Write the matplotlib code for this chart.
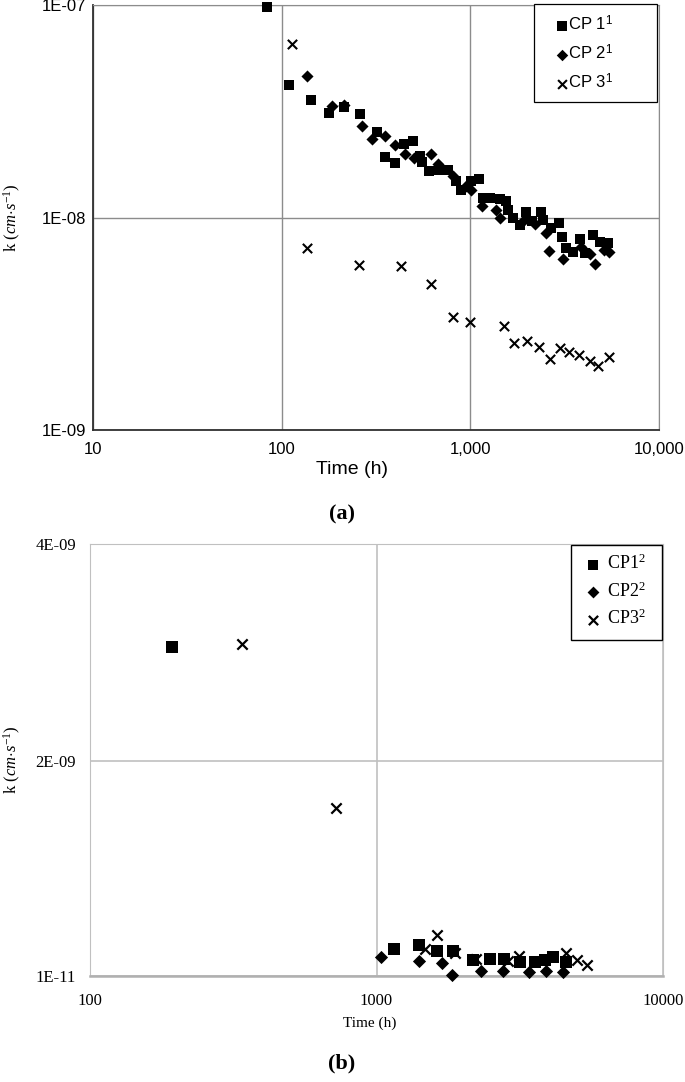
import numpy as np
import matplotlib
matplotlib.use('Agg')
import matplotlib.pyplot as plt
from matplotlib.patches import Rectangle
from matplotlib.ticker import FixedLocator, FixedFormatter, NullLocator

plt.rcParams['mathtext.fontset'] = 'custom'
plt.rcParams['mathtext.rm'] = 'Liberation Serif'
plt.rcParams['mathtext.it'] = 'Liberation Serif:italic'
plt.rcParams['mathtext.sf'] = 'Liberation Sans'

# ── Data: panel (a) ───────────────────────────────────────────────────────────
cp1_a_time = [84, 110, 143, 179, 213, 261, 322, 352, 399, 444, 497, 544, 557, 604, 683,
              762, 837, 887, 1014, 1112, 1167, 1267, 1432, 1539, 1585, 1684, 1827, 1965,
              2132, 2380, 2428, 2691, 2953, 3077, 3201, 3499, 3796, 4034, 4467, 4846, 5360]
cp1_a_k = [9.75e-8, 4.21e-8, 3.58e-8, 3.09e-8, 3.30e-8, 3.07e-8, 2.52e-8, 1.93e-8, 1.80e-8,
           2.22e-8, 2.28e-8, 1.95e-8, 1.83e-8, 1.66e-8, 1.68e-8, 1.68e-8, 1.49e-8, 1.35e-8,
           1.48e-8, 1.51e-8, 1.23e-8, 1.23e-8, 1.22e-8, 1.19e-8, 1.08e-8, 9.91e-9, 9.23e-9,
           1.06e-8, 9.66e-9, 1.06e-8, 9.72e-9, 8.89e-9, 9.39e-9, 8.07e-9, 7.21e-9, 6.90e-9,
           7.89e-9, 6.83e-9, 8.28e-9, 7.69e-9, 7.57e-9]

cp2_a_time = [137, 184, 213, 265, 303, 355, 401, 453, 501, 622, 675, 809, 953, 1014, 1158,
              1365, 1443, 1919, 2193, 2506, 2622, 3097, 3874, 4323, 4600, 5093, 5433]
cp2_a_k = [4.61e-8, 3.35e-8, 3.38e-8, 2.70e-8, 2.33e-8, 2.42e-8, 2.19e-8, 2.00e-8, 1.91e-8,
           1.98e-8, 1.78e-8, 1.57e-8, 1.41e-8, 1.35e-8, 1.13e-8, 1.09e-8, 9.90e-9, 9.72e-9,
           9.31e-9, 8.43e-9, 6.98e-9, 6.38e-9, 7.29e-9, 6.73e-9, 6.04e-9, 7.03e-9, 6.90e-9]

cp3_a_time = [114, 136, 256, 427, 617, 809, 1002, 1507, 1702, 1995, 2310, 2634, 3000,
              3319, 3768, 4289, 4765, 5408]
cp3_a_k = [6.53e-8, 7.16e-9, 5.97e-9, 5.93e-9, 4.85e-9, 3.40e-9, 3.23e-9, 3.10e-9, 2.58e-9,
           2.63e-9, 2.46e-9, 2.16e-9, 2.44e-9, 2.33e-9, 2.25e-9, 2.12e-9, 2.00e-9, 2.21e-9]

# ── Data: panel (b) ───────────────────────────────────────────────────────────
cp1_b_time = [194, 1148, 1409, 1626, 1849, 2173, 2484, 2780, 3162, 3565, 3864, 4130, 4603]
cp1_b_k = [3.05e-9, 2.6e-10, 3.0e-10, 2.4e-10, 2.4e-10, 1.6e-10, 1.7e-10, 1.7e-10,
           1.4e-10, 1.4e-10, 1.6e-10, 1.9e-10, 1.4e-10]

cp2_b_time = [1033, 1409, 1698, 1841, 2307, 2767, 3404, 3890, 4477]
cp2_b_k = [1.9e-10, 1.5e-10, 1.3e-10, 2e-11, 6e-11, 6e-11, 5e-11, 6e-11, 5e-11]

cp3_b_time = [338, 721, 1472, 1626, 1876, 2218, 2878, 3141, 4603, 4991, 5447]
cp3_b_k = [3.08e-9, 1.56e-9, 2.6e-10, 3.9e-10, 2.2e-10, 1.7e-10, 1.5e-10, 1.95e-10,
           2.2e-10, 1.6e-10, 1.1e-10]

a_xticks = [10, 100, 1000, 10000]
a_xlabels = ['10', '100', '1,000', '10,000']
a_yticks = [1e-9, 1e-8, 1e-7]
a_ylabels = ['1E-09', '1E-08', '1E-07']
b_xticks = [100, 1000, 10000]
b_xlabels = ['100', '1000', '10000']
b_yticks = [1e-11, 2e-9, 4e-9]
b_ylabels = ['1E-11', '2E-09', '4E-09']

fig = plt.figure(figsize=(6.85, 10.82), dpi=100)
W, H = 685, 1082

def px_axes(l, t, r, b):
    return fig.add_axes([l / W, 1 - b / H, (r - l) / W, (b - t) / H])

def px_box(l, t, r, b, lw):
    fig.add_artist(Rectangle((l / W, 1 - b / H), (r - l) / W, (b - t) / H,
                             transform=fig.transFigure, facecolor='white',
                             edgecolor='black', lw=lw, zorder=4))

# ── Panel (a) ─────────────────────────────────────────────────────────────────
sans = 'Liberation Sans'
ax1 = px_axes(93, 5, 659, 430)
ax1.set_xscale('log')
ax1.set_yscale('log')
ax1.set_xlim(10, 10000)
ax1.set_ylim(1e-9, 1e-7)
ax1.scatter(cp1_a_time, cp1_a_k, marker='s', s=60, color='black', lw=0,
            label=r'CP 1$^{\mathsf{1}}$', clip_on=False, zorder=3)
ax1.scatter(cp2_a_time, cp2_a_k, marker='D', s=38, color='black', lw=0,
            label=r'CP 2$^{\mathsf{1}}$', clip_on=False, zorder=3)
ax1.scatter(cp3_a_time, cp3_a_k, marker='x', s=45, color='black', lw=1.5,
            label=r'CP 3$^{\mathsf{1}}$', clip_on=False, zorder=3)
ax1.xaxis.set_major_locator(FixedLocator(a_xticks))
ax1.xaxis.set_major_formatter(FixedFormatter(a_xlabels))
ax1.yaxis.set_major_locator(FixedLocator(a_yticks))
ax1.yaxis.set_major_formatter(FixedFormatter(a_ylabels))
ax1.xaxis.set_minor_locator(NullLocator())
ax1.yaxis.set_minor_locator(NullLocator())
ax1.tick_params(length=0, labelsize=12)
ax1.tick_params(axis='x', pad=9)
ax1.tick_params(axis='y', pad=5)
for lab in ax1.get_xticklabels() + ax1.get_yticklabels():
    lab.set_family(sans)
ax1.grid(True, color='#8c8c8c', lw=1)
for side in ['top', 'right']:
    ax1.spines[side].set_color('#8c8c8c')
for side in ['left', 'bottom']:
    ax1.spines[side].set_color('#303030')
    ax1.spines[side].set_linewidth(1.3)
ax1.set_axisbelow(True)

# legend: box drawn separately so its padding matches the original
px_box(534, 4, 657, 102, 0.9)
leg1 = fig.legend(handles=ax1.collections, loc='upper left',
                  bbox_to_anchor=(556 / W, 1 - 14 / H), borderaxespad=0, borderpad=0,
                  frameon=False, prop={'family': sans, 'size': 12},
                  handletextpad=0.05, handlelength=0.7, labelspacing=0.6,
                  scatterpoints=1, markerscale=0.95)
leg1.set_zorder(5)

fig.text(352 / W, 1 - 470 / H, 'Time (h)', family=sans, fontsize=14, ha='center', va='center')
fig.text(12 / W, 1 - 218 / H, r'k $(cm{\cdot}s^{-1})$', family='Liberation Serif',
         fontsize=12, rotation=90, ha='center', va='center')
fig.text(342 / W, 1 - 514 / H, '(a)', family='Liberation Serif', fontsize=16,
         fontweight='bold', ha='center', va='center')

# ── Panel (b) ─────────────────────────────────────────────────────────────────
serif = 'Liberation Serif'
ax2 = px_axes(90, 544, 663, 976)
ax2.set_xscale('log')
ax2.set_xlim(100, 10000)
ax2.set_ylim(1e-11, 4e-9)
ax2.scatter(cp1_b_time, cp1_b_k, marker='s', s=70, color='black', lw=0,
            label=r'CP1$^{\mathrm{2}}$', clip_on=False, zorder=3)
ax2.scatter(cp2_b_time, cp2_b_k, marker='D', s=45, color='black', lw=0,
            label=r'CP2$^{\mathrm{2}}$', clip_on=False, zorder=3)
ax2.scatter(cp3_b_time, cp3_b_k, marker='x', s=55, color='black', lw=1.6,
            label=r'CP3$^{\mathrm{2}}$', clip_on=False, zorder=3)
ax2.xaxis.set_major_locator(FixedLocator(b_xticks))
ax2.xaxis.set_major_formatter(FixedFormatter(b_xlabels))
ax2.yaxis.set_major_locator(FixedLocator(b_yticks))
ax2.yaxis.set_major_formatter(FixedFormatter(b_ylabels))
ax2.xaxis.set_minor_locator(NullLocator())
ax2.tick_params(length=0, labelsize=12)
ax2.tick_params(axis='x', pad=12)
ax2.tick_params(axis='y', pad=10)
for lab in ax2.get_xticklabels() + ax2.get_yticklabels():
    lab.set_family(serif)
ax2.grid(True, color='#c0c0c0', lw=1.2)
for side in ['top', 'right', 'left']:
    ax2.spines[side].set_color('#c0c0c0')
ax2.spines['bottom'].set_color('#b0b0b0')
ax2.spines['bottom'].set_linewidth(1.8)
ax2.set_axisbelow(True)

px_box(571, 545, 662, 640, 1.0)
leg2 = fig.legend(handles=ax2.collections, loc='upper left',
                  bbox_to_anchor=(584 / W, 1 - 554 / H), borderaxespad=0, borderpad=0,
                  frameon=False, prop={'family': serif, 'size': 13},
                  handletextpad=0.3, handlelength=1.0, labelspacing=0.45,
                  scatterpoints=1, markerscale=0.9)
leg2.set_zorder(5)

fig.text(370 / W, 1 - 1023 / H, 'Time (h)', family=serif, fontsize=11, ha='center', va='center')
fig.text(12 / W, 1 - 760 / H, r'k $(cm{\cdot}s^{-1})$', family=serif,
         fontsize=12, rotation=90, ha='center', va='center')
fig.text(342 / W, 1 - 1063 / H, '(b)', family=serif, fontsize=16,
         fontweight='bold', ha='center', va='center')

fig.savefig('out.png', dpi=100)
